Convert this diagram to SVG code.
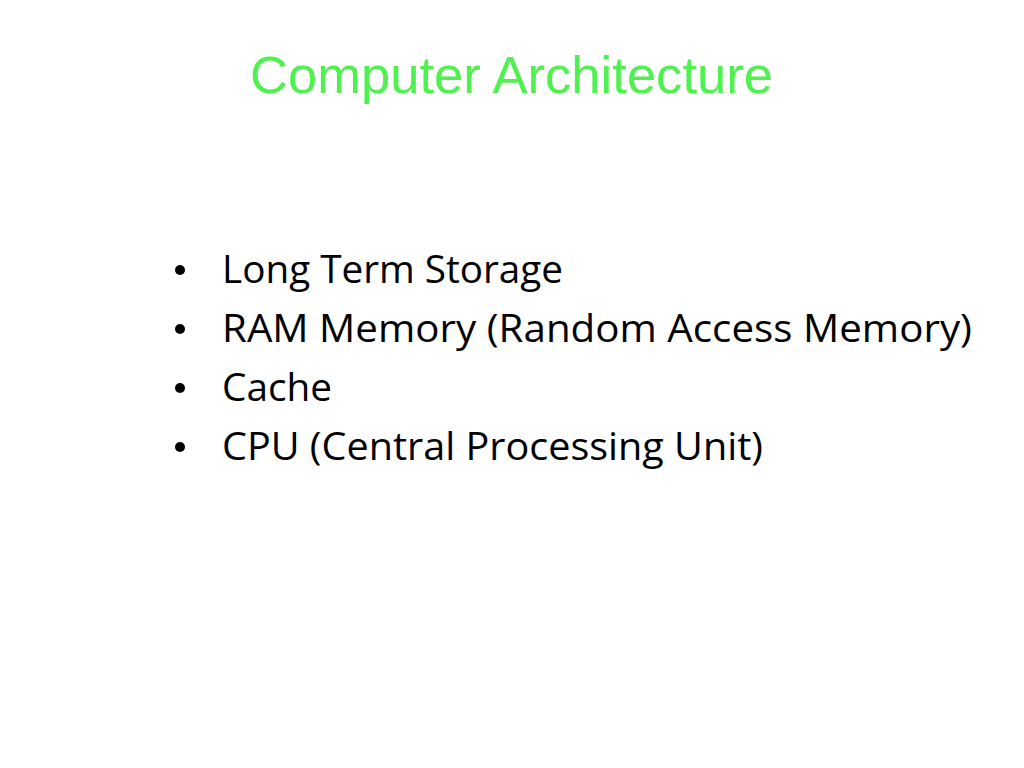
<svg xmlns="http://www.w3.org/2000/svg" width="1024" height="768" viewBox="0 0 1024 768">
<style>
.title{font-family:"Liberation Sans",Arial,sans-serif;font-size:52px;fill:#50F050}
.item{font-family:"Open Sans","Noto Sans",sans-serif;font-size:39px;fill:#000}
.dot{fill:#000}
</style>
<rect width="1024" height="768" fill="#fff"/>
<g id="title"><text class="title" x="250" y="93" textLength="523" lengthAdjust="spacingAndGlyphs">Computer Architecture</text></g>
<g id="bullets">
<g id="b1"><circle class="dot" cx="180" cy="270" r="5"/><text class="item" x="222" y="283" textLength="341" lengthAdjust="spacingAndGlyphs">Long Term Storage</text></g>
<g id="b2"><circle class="dot" cx="180" cy="329" r="5"/><text class="item" x="222" y="342" textLength="750" lengthAdjust="spacingAndGlyphs">RAM Memory (Random Access Memory)</text></g>
<g id="b3"><circle class="dot" cx="180" cy="388" r="5"/><text class="item" x="222" y="401" textLength="110" lengthAdjust="spacingAndGlyphs">Cache</text></g>
<g id="b4"><circle class="dot" cx="180" cy="447" r="5"/><text class="item" x="222" y="460" textLength="541" lengthAdjust="spacingAndGlyphs">CPU (Central Processing Unit)</text></g>
</g>
</svg>
